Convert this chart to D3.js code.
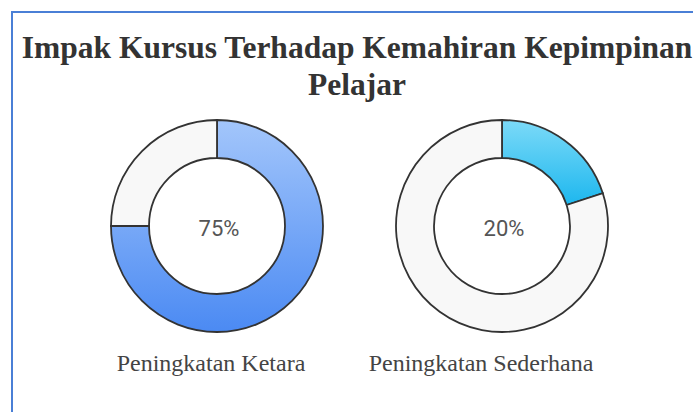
<!DOCTYPE html>
<html>
<head>
<meta charset="utf-8">
<script src="https://cdn.jsdelivr.net/npm/d3@7"></script>
<style>
  body { margin: 0; background: #fff; }
</style>
</head>
<body>
<script>
var categories = ['Peningkatan Ketara', 'Peningkatan Sederhana'];
var values = [75, 20];
var titleLines = ['Impak Kursus Terhadap Kemahiran Kepimpinan', 'Pelajar'];
var gradients = [['#a3c6fb', '#4b8af3'], ['#7cdaf8', '#1db7ee']];

var width = 693, height = 412;

var svg = d3.select('body').append('svg')
    .attr('width', width)
    .attr('height', height);

var defs = svg.append('defs');
gradients.forEach(function(g, i) {
  var lg = defs.append('linearGradient')
      .attr('id', 'grad' + i)
      .attr('x1', 0).attr('y1', 0).attr('x2', 0).attr('y2', 1);
  lg.append('stop').attr('offset', '0%').attr('stop-color', g[0]);
  lg.append('stop').attr('offset', '100%').attr('stop-color', g[1]);
});

// frame
svg.append('rect')
    .attr('x', 12).attr('y', 12)
    .attr('width', 700).attr('height', 420)
    .attr('fill', 'none')
    .attr('stroke', '#4a7fd6')
    .attr('stroke-width', 2);

svg.append('text')
    .attr('text-anchor', 'middle')
    .style('font-family', '"Liberation Serif", "Times New Roman", serif')
    .style('font-weight', 'bold')
    .style('font-size', '31.5px')
    .attr('fill', '#333')
  .selectAll('tspan')
    .data(titleLines)
  .enter().append('tspan')
    .attr('x', 357)
    .attr('y', function(d, i) { return 58 + i * 37; })
    .text(function(d) { return d; });

var x = d3.scalePoint()
    .domain(categories)
    .range([217, 502]);

var pie = d3.pie().sort(null).value(function(d) { return d; });
var arc = d3.arc().innerRadius(68).outerRadius(106);

var labelX = [211, 481];

var g = svg.selectAll('.donut')
    .data(categories)
  .enter().append('g')
    .attr('class', 'donut')
    .attr('transform', function(d) { return 'translate(' + x(d) + ',226)'; });

g.selectAll('path')
    .data(function(d, i) {
      return pie([values[i], 100 - values[i]]).map(function(a) { a.k = i; return a; });
    })
  .enter().append('path')
    .attr('d', arc)
    .attr('fill', function(d) { return d.index === 0 ? 'url(#grad' + d.k + ')' : '#f8f8f8'; })
    .attr('stroke', '#333')
    .attr('stroke-width', 1.8);

g.append('text')
    .attr('x', 2)
    .attr('y', 2)
    .attr('text-anchor', 'middle')
    .attr('dy', '0.35em')
    .style('font-family', 'Roboto, "Open Sans", sans-serif')
    .style('font-size', '22px')
    .attr('fill', '#555')
    .text(function(d, i) { return values[i] + '%'; });

svg.selectAll('.label')
    .data(categories)
  .enter().append('text')
    .attr('class', 'label')
    .attr('x', function(d, i) { return labelX[i]; })
    .attr('y', 371)
    .attr('text-anchor', 'middle')
    .style('font-family', '"Liberation Serif", "Times New Roman", serif')
    .style('font-size', '24px')
    .attr('fill', '#444')
    .text(function(d) { return d; });
</script>
</body>
</html>
